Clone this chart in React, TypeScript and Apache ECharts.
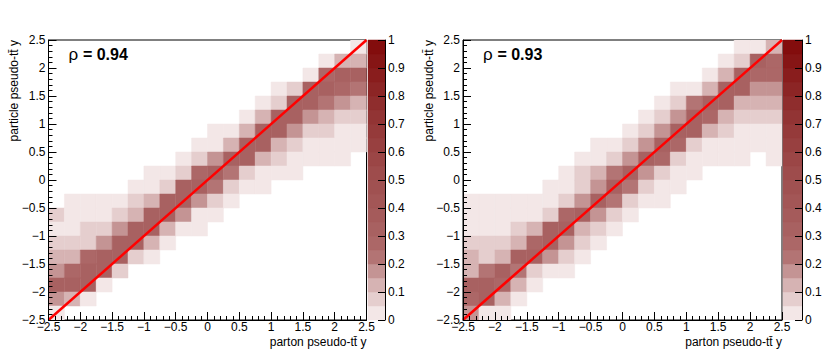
import React, { useEffect, useRef } from "react";
import * as echarts from "echarts";

// Bin edges (20 x 20 bins of width 0.25 from -2.5 to 2.5)
const binEdgesStart = -2.5;
const binWidth = 0.25;

// Rows listed from top (particle y in [2.25, 2.5]) to bottom ([-2.5, -2.25]); columns from parton y = -2.5 to 2.5
const leftRows: number[][] = [
  [0, 0, 0, 0, 0, 0, 0, 0, 0, 0, 0, 0, 0, 0, 0, 0, 0, 0, 0, 0.03],
  [0, 0, 0, 0, 0, 0, 0, 0, 0, 0, 0, 0, 0, 0, 0, 0, 0, 0.03, 0.13, 0.13],
  [0, 0, 0, 0, 0, 0, 0, 0, 0, 0, 0, 0, 0, 0, 0, 0, 0.03, 0.28, 0.33, 0.33],
  [0, 0, 0, 0, 0, 0, 0, 0, 0, 0, 0, 0, 0, 0, 0.03, 0.08, 0.33, 0.33, 0.28, 0.23],
  [0, 0, 0, 0, 0, 0, 0, 0, 0, 0, 0, 0, 0, 0.03, 0.08, 0.33, 0.33, 0.23, 0.18, 0.13],
  [0, 0, 0, 0, 0, 0, 0, 0, 0, 0, 0, 0, 0.03, 0.13, 0.33, 0.33, 0.18, 0.13, 0.08, 0.08],
  [0, 0, 0, 0, 0, 0, 0, 0, 0, 0, 0.03, 0.03, 0.13, 0.33, 0.33, 0.18, 0.08, 0.08, 0.03, 0.03],
  [0, 0, 0, 0, 0, 0, 0, 0, 0, 0.03, 0.03, 0.13, 0.33, 0.33, 0.13, 0.08, 0.03, 0.03, 0.03, 0.03],
  [0, 0, 0, 0, 0, 0, 0, 0, 0.03, 0.08, 0.18, 0.33, 0.33, 0.13, 0.08, 0.03, 0.03, 0.03, 0.03, 0],
  [0, 0, 0, 0, 0, 0, 0.03, 0.03, 0.08, 0.28, 0.33, 0.23, 0.08, 0.03, 0.03, 0.03, 0, 0, 0, 0],
  [0, 0, 0, 0, 0, 0.03, 0.03, 0.08, 0.33, 0.33, 0.23, 0.08, 0.03, 0.03, 0, 0, 0, 0, 0, 0],
  [0, 0.03, 0.03, 0.03, 0.03, 0.08, 0.13, 0.33, 0.33, 0.18, 0.08, 0.03, 0, 0, 0, 0, 0, 0, 0, 0],
  [0.08, 0.03, 0.03, 0.03, 0.08, 0.13, 0.33, 0.33, 0.18, 0.03, 0.03, 0, 0, 0, 0, 0, 0, 0, 0, 0],
  [0.03, 0.03, 0.08, 0.08, 0.18, 0.33, 0.33, 0.13, 0.03, 0.03, 0, 0, 0, 0, 0, 0, 0, 0, 0, 0],
  [0.08, 0.08, 0.08, 0.18, 0.33, 0.33, 0.13, 0.03, 0, 0, 0, 0, 0, 0, 0, 0, 0, 0, 0, 0],
  [0.13, 0.13, 0.28, 0.33, 0.33, 0.08, 0.03, 0, 0, 0, 0, 0, 0, 0, 0, 0, 0, 0, 0, 0],
  [0.18, 0.28, 0.33, 0.33, 0.08, 0, 0, 0, 0, 0, 0, 0, 0, 0, 0, 0, 0, 0, 0, 0],
  [0.33, 0.33, 0.33, 0.03, 0, 0, 0, 0, 0, 0, 0, 0, 0, 0, 0, 0, 0, 0, 0, 0],
  [0.18, 0.13, 0.03, 0, 0, 0, 0, 0, 0, 0, 0, 0, 0, 0, 0, 0, 0, 0, 0, 0],
  [0.03, 0, 0, 0, 0, 0, 0, 0, 0, 0, 0, 0, 0, 0, 0, 0, 0, 0, 0, 0],
];

const rightRows: number[][] = [
  [0, 0, 0, 0, 0, 0, 0, 0, 0, 0, 0, 0, 0, 0, 0, 0, 0, 0.03, 0.03, 0.13],
  [0, 0, 0, 0, 0, 0, 0, 0, 0, 0, 0, 0, 0, 0, 0, 0, 0.03, 0.08, 0.33, 0.28],
  [0, 0, 0, 0, 0, 0, 0, 0, 0, 0, 0, 0, 0, 0, 0, 0.03, 0.13, 0.33, 0.28, 0.28],
  [0, 0, 0, 0, 0, 0, 0, 0, 0, 0, 0, 0, 0, 0.03, 0.03, 0.13, 0.33, 0.33, 0.18, 0.18],
  [0, 0, 0, 0, 0, 0, 0, 0, 0, 0, 0, 0, 0.03, 0.08, 0.23, 0.33, 0.33, 0.13, 0.13, 0.13],
  [0, 0, 0, 0, 0, 0, 0, 0, 0, 0, 0, 0.03, 0.08, 0.18, 0.33, 0.28, 0.13, 0.08, 0.08, 0.08],
  [0, 0, 0, 0, 0, 0, 0, 0, 0, 0, 0.03, 0.08, 0.18, 0.33, 0.33, 0.13, 0.08, 0.03, 0.03, 0.03],
  [0, 0, 0, 0, 0, 0, 0, 0, 0.03, 0.03, 0.08, 0.18, 0.33, 0.28, 0.08, 0.03, 0.03, 0.03, 0.03, 0.03],
  [0, 0, 0, 0, 0, 0, 0, 0.03, 0.03, 0.08, 0.18, 0.33, 0.28, 0.08, 0.03, 0.03, 0.03, 0.03, 0, 0.03],
  [0, 0, 0, 0, 0, 0, 0.03, 0.08, 0.13, 0.23, 0.33, 0.18, 0.08, 0.03, 0.03, 0, 0, 0, 0, 0],
  [0, 0, 0, 0, 0, 0.03, 0.03, 0.08, 0.18, 0.33, 0.23, 0.08, 0.03, 0.03, 0, 0, 0, 0, 0, 0],
  [0.03, 0.03, 0.03, 0.03, 0.03, 0.03, 0.08, 0.18, 0.33, 0.23, 0.08, 0.03, 0.03, 0, 0, 0, 0, 0, 0, 0],
  [0.03, 0.03, 0.03, 0.03, 0.03, 0.08, 0.28, 0.33, 0.18, 0.08, 0.03, 0, 0, 0, 0, 0, 0, 0, 0, 0],
  [0.03, 0.03, 0.03, 0.08, 0.13, 0.33, 0.33, 0.13, 0.08, 0.03, 0, 0, 0, 0, 0, 0, 0, 0, 0, 0],
  [0.08, 0.08, 0.08, 0.13, 0.28, 0.33, 0.18, 0.08, 0.03, 0, 0, 0, 0, 0, 0, 0, 0, 0, 0, 0],
  [0.13, 0.08, 0.13, 0.33, 0.33, 0.18, 0.08, 0.03, 0, 0, 0, 0, 0, 0, 0, 0, 0, 0, 0, 0],
  [0.13, 0.23, 0.33, 0.23, 0.08, 0.03, 0.03, 0, 0, 0, 0, 0, 0, 0, 0, 0, 0, 0, 0, 0],
  [0.33, 0.33, 0.28, 0.13, 0.03, 0, 0, 0, 0, 0, 0, 0, 0, 0, 0, 0, 0, 0, 0, 0],
  [0.28, 0.33, 0.13, 0.03, 0, 0, 0, 0, 0, 0, 0, 0, 0, 0, 0, 0, 0, 0, 0, 0],
  [0.18, 0.03, 0.03, 0, 0, 0, 0, 0, 0, 0, 0, 0, 0, 0, 0, 0, 0, 0, 0, 0],
];

const correlations = ["0.94", "0.93"];
const diagonal = [
  [-2.5, -2.5],
  [2.5, 2.5],
];

// 20-step palette (0 .. 1 in steps of 0.05)
const paletteColors = [
  "#f3e7e7", "#e5cece", "#d6b3b3", "#c49494", "#b37474",
  "#ac6767", "#a86161", "#a55b5b", "#a35656", "#a05151",
  "#9e4c4c", "#9b4646", "#984040", "#953a3a", "#923434",
  "#8f2d2d", "#8c2525", "#891d1d", "#861515", "#830d0d",
];

const FONT = "'Liberation Sans', Arial, Helvetica, sans-serif";

const colorFor = (v: number) =>
  paletteColors[Math.max(0, Math.min(paletteColors.length - 1, Math.floor(v / 0.05 + 1e-9)))];

const fmt = (v: number) => {
  const r = Math.round(v * 10) / 10;
  return r < 0 ? "\u2212" + String(-r) : String(r);
};

function cellsFrom(rows: number[][]) {
  const out: number[][] = [];
  const n = rows.length;
  rows.forEach((row, r) => {
    const j = n - 1 - r;
    row.forEach((v, i) => {
      if (v > 0) out.push([binEdgesStart + i * binWidth, binEdgesStart + j * binWidth, v]);
    });
  });
  return out;
}

export default function App() {
  const ref = useRef<HTMLDivElement>(null);

  useEffect(() => {
    if (!ref.current) return;
    const chart = echarts.init(ref.current, undefined, { renderer: "svg" });

    const panels = [
      { left: 48.5, width: 318, cbLeft: 368, cbWidth: 17 },
      { left: 463, width: 319, cbLeft: 783, cbWidth: 19 },
    ];
    const top = 40;
    const height = 280;

    const grids: any[] = [];
    const xAxes: any[] = [];
    const yAxes: any[] = [];
    const series: any[] = [];
    const graphics: any[] = [];

    const labelStyle = (margin: number) => ({
      color: "#000",
      fontSize: 12,
      fontFamily: FONT,
      formatter: fmt,
      margin,
      showMinLabel: true,
      showMaxLabel: true,
    });

    const mainAxis = (gridIndex: number, margin: number) => ({
      type: "value",
      gridIndex,
      min: -2.5,
      max: 2.5,
      interval: 0.5,
      z: 5,
      axisLine: { show: true, onZero: false, lineStyle: { color: "#000", width: 1 } },
      axisTick: { show: true, inside: true, length: 8, lineStyle: { color: "#000" } },
      minorTick: { show: true, splitNumber: 5, length: 4, lineStyle: { color: "#000" } },
      splitLine: { show: false },
      minorSplitLine: { show: false },
      axisLabel: labelStyle(margin),
    });

    const rowsList = [leftRows, rightRows];

    panels.forEach((p, k) => {
      const gi = k * 2;
      grids.push({
        left: p.left,
        top,
        width: p.width,
        height,
        show: true,
        borderColor: "#000",
        borderWidth: 1,
        backgroundColor: "transparent",
      });
      grids.push({ left: p.cbLeft, top, width: p.cbWidth, height, show: false });

      xAxes.push(mainAxis(gi, 1));
      yAxes.push(mainAxis(gi, 3));

      xAxes.push({ type: "value", gridIndex: gi + 1, min: 0, max: 1, show: false });
      yAxes.push({
        type: "value",
        gridIndex: gi + 1,
        min: 0,
        max: 1,
        interval: 0.1,
        position: "right",
        z: 5,
        axisLine: { show: true, onZero: false, lineStyle: { color: "#000", width: 1 } },
        axisTick: { show: true, inside: true, length: 7, lineStyle: { color: "#000" } },
        splitLine: { show: false },
        axisLabel: { color: "#000", fontSize: 12, fontFamily: FONT, margin: 3, formatter: fmt },
      });

      series.push({
        type: "custom",
        xAxisIndex: gi,
        yAxisIndex: gi,
        z: 2,
        clip: true,
        data: cellsFrom(rowsList[k]),
        encode: { x: 0, y: 1 },
        renderItem: (params: any, api: any) => {
          const x0 = api.value(0);
          const y0 = api.value(1);
          const v = api.value(2);
          const p1 = api.coord([x0, y0 + binWidth]);
          const p2 = api.coord([x0 + binWidth, y0]);
          const c = colorFor(v);
          return {
            type: "rect",
            shape: { x: p1[0], y: p1[1], width: p2[0] - p1[0], height: p2[1] - p1[1] },
            style: { fill: c, stroke: c, lineWidth: 0.5 },
          };
        },
      });

      series.push({
        type: "line",
        xAxisIndex: gi,
        yAxisIndex: gi,
        data: diagonal,
        symbol: "none",
        z: 4,
        lineStyle: { color: "#ff0000", width: 2.5 },
        silent: true,
      });

      series.push({
        type: "custom",
        xAxisIndex: gi + 1,
        yAxisIndex: gi + 1,
        z: 2,
        data: paletteColors.map((_, idx) => [idx * 0.05, (idx + 1) * 0.05, idx]),
        encode: { y: [0, 1] },
        renderItem: (params: any, api: any) => {
          const lo = api.value(0);
          const hi = api.value(1);
          const idx = api.value(2);
          const p1 = api.coord([0, hi]);
          const p2 = api.coord([1, lo]);
          const c = paletteColors[idx];
          return {
            type: "rect",
            shape: { x: p1[0], y: p1[1], width: p2[0] - p1[0], height: p2[1] - p1[1] },
            style: { fill: c, stroke: c, lineWidth: 0.5 },
          };
        },
      });

      // rho label
      graphics.push({
        type: "text",
        left: p.left + 20,
        top: 46,
        z: 10,
        style: {
          text: "{a|\u03c1 }{b|= " + correlations[k] + "}",
          rich: {
            a: { fontSize: 17, fontFamily: FONT, fill: "#000" },
            b: { fontSize: 16, fontFamily: FONT, fontWeight: "bold", fill: "#000" },
          },
        },
      });

      // axis titles
      graphics.push({
        type: "text",
        x: p.left + p.width,
        y: 342,
        z: 10,
        style: {
          text: "parton pseudo-tt\u0304 y",
          fontSize: 12,
          fontFamily: FONT,
          fill: "#000",
          textAlign: "right",
          textVerticalAlign: "middle",
        },
      });
      graphics.push({
        type: "text",
        x: p.left - 34.5,
        y: top,
        rotation: Math.PI / 2,
        z: 10,
        style: {
          text: "particle pseudo-tt\u0304 y",
          fontSize: 12,
          fontFamily: FONT,
          fill: "#000",
          textAlign: "right",
          textVerticalAlign: "middle",
        },
      });
    });

    chart.setOption({
      animation: false,
      backgroundColor: "#fff",
      grid: grids,
      xAxis: xAxes,
      yAxis: yAxes,
      series,
      graphic: graphics,
    });

    return () => chart.dispose();
  }, []);

  return (
    <div
      ref={ref}
      style={{ position: "fixed", left: 0, top: 0, width: 830, height: 358 }}
    />
  );
}
